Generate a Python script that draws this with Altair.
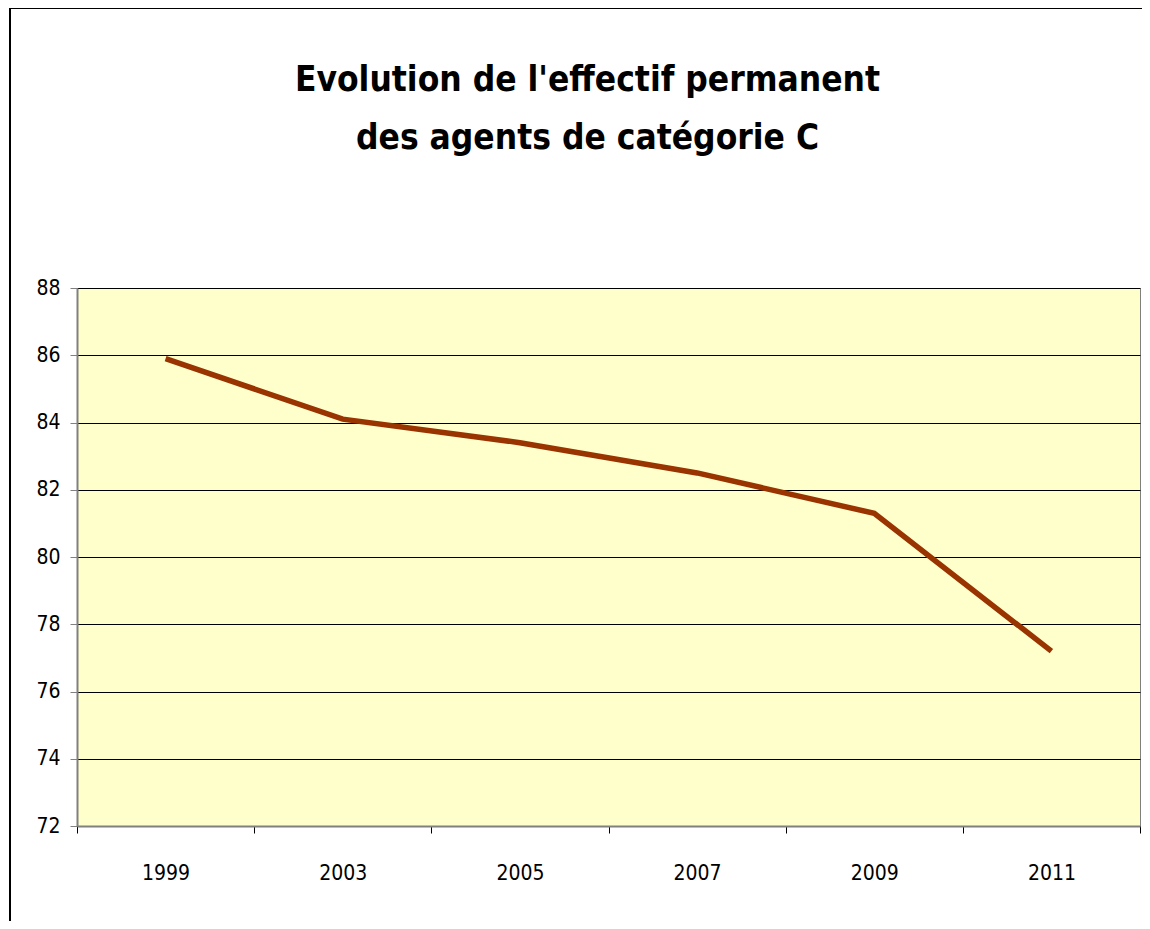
import altair as alt
import pandas as pd

years = ["1999", "2003", "2005", "2007", "2009", "2011"]
effectif = [85.9, 84.1, 83.4, 82.5, 81.3, 77.2]
y_ticks = [72, 74, 76, 78, 80, 82, 84, 86, 88]
title_lines = ["Evolution de l'effectif permanent", "des agents de catégorie C"]

df = pd.DataFrame({"annee": years, "effectif": effectif})

FONT = "DejaVu Sans Condensed, Liberation Sans Narrow, sans-serif"

x_enc = alt.X(
    "annee:N",
    sort=years,
    scale=alt.Scale(type="band", paddingInner=0, paddingOuter=0),
    axis=alt.Axis(
        title=None,
        labelAngle=0,
        tickBand="extent",
        tickSize=7,
        tickColor="#000000",
        domainColor="#808080",
        domainWidth=2,
        labelFont=FONT,
        labelFontSize=21,
        labelColor="#000000",
        labelPadding=29,
        grid=False,
    ),
)

y_enc = alt.Y(
    "effectif:Q",
    scale=alt.Scale(domain=[72, 88], nice=False, zero=False),
    axis=alt.Axis(
        title=None,
        values=y_ticks,
        tickSize=7,
        tickColor="#808080",
        domainColor="#808080",
        domainWidth=2,
        labelFont=FONT,
        labelFontSize=21,
        labelColor="#000000",
        labelPadding=10,
        grid=True,
        gridColor="#000000",
        gridWidth=1,
        gridOpacity=1,
    ),
)

line = alt.Chart(df).mark_line(color="#993300", strokeWidth=5.5, strokeCap="butt").encode(
    x=x_enc, y=y_enc
)

frame_left = alt.Chart(df).mark_rule(color="#000000", strokeWidth=2).encode(
    x=alt.value(-67), y=alt.value(-280), y2=alt.value(640)
)
frame_top = alt.Chart(df).mark_rule(color="#000000", strokeWidth=2).encode(
    x=alt.value(-67), x2=alt.value(1065), y=alt.value(-280)
)

chart = alt.layer(line, frame_left, frame_top).properties(
    width=1063,
    height=538,
    background="#FFFFFF",
    autosize=alt.AutoSizeParams(type="none"),
    padding={"left": 69, "top": 280, "right": 2, "bottom": 95},
    title=alt.TitleParams(
        text=title_lines,
        font=FONT,
        fontSize=35,
        fontWeight="bold",
        color="#000000",
        anchor="middle",
        frame="group",
        baseline="alphabetic",
        lineHeight=58,
        offset=0,
        dx=-21,
        dy=177,
    ),
).configure_view(
    fill="#FFFFCC", stroke="#808080", strokeWidth=1
)

chart.save("out.html", embed_options={"renderer": "svg", "actions": False})
